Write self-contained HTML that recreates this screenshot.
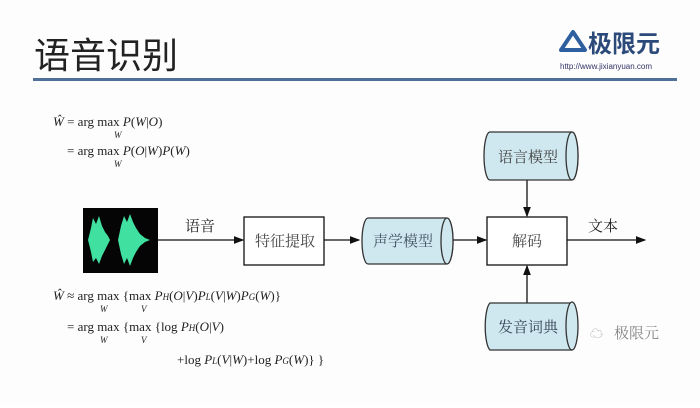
<!DOCTYPE html>
<html><head><meta charset="utf-8"><style>
body{margin:0;background:#fff;}
svg text{font-family:"Liberation Serif","Noto Serif CJK SC",serif;}
.cjk{font-family:"Noto Sans CJK SC",sans-serif !important;}
.sans{font-family:"Liberation Sans",sans-serif !important;}
</style></head><body>
<svg width="700" height="403" viewBox="0 0 700 403" xmlns="http://www.w3.org/2000/svg">
<defs><marker id="a" markerWidth="8" markerHeight="8" refX="7" refY="4" orient="auto"><path d="M0,1 L8,4 L0,7 Z" fill="#111"/></marker></defs>
<rect width="700" height="403" fill="#fdfdfd"/>
<text x="34" y="68" font-size="36" class="cjk" fill="#222">语音识别</text>
<path d="M573,32 L585,50 L561,50 Z" fill="none" stroke="#2e5f9e" stroke-width="4" stroke-linejoin="round"/>
<text x="588" y="52" font-size="24" class="cjk" font-weight="bold" fill="#2b4a7a">极限元</text>
<text x="560" y="69" font-size="8" class="sans" fill="#336">http://www.jixianyuan.com</text>
<rect x="33" y="78" width="644" height="3" fill="#4f7199"/>
<g font-size="13" fill="#222">
<text x="53" y="126"><tspan font-style="italic">Ŵ</tspan> = arg max <tspan font-style="italic">P</tspan>(<tspan font-style="italic">W</tspan>|<tspan font-style="italic">O</tspan>)</text>
<text x="114" y="138" font-size="9" font-style="italic">W</text>
<text x="67" y="155">= arg max <tspan font-style="italic">P</tspan>(<tspan font-style="italic">O</tspan>|<tspan font-style="italic">W</tspan>)<tspan font-style="italic">P</tspan>(<tspan font-style="italic">W</tspan>)</text>
<text x="114" y="167" font-size="9" font-style="italic">W</text>
<text x="53" y="300"><tspan font-style="italic">Ŵ</tspan> ≈ arg max {max <tspan font-style="italic">P<tspan font-size="9">H</tspan></tspan>(<tspan font-style="italic">O</tspan>|<tspan font-style="italic">V</tspan>)<tspan font-style="italic">P<tspan font-size="9">L</tspan></tspan>(<tspan font-style="italic">V</tspan>|<tspan font-style="italic">W</tspan>)<tspan font-style="italic">P<tspan font-size="9">G</tspan></tspan>(<tspan font-style="italic">W</tspan>)}</text>
<text x="100" y="312" font-size="9" font-style="italic">W</text>
<text x="141" y="312" font-size="9" font-style="italic">V</text>
<text x="67" y="331">= arg max {max {log <tspan font-style="italic">P<tspan font-size="9">H</tspan></tspan>(<tspan font-style="italic">O</tspan>|<tspan font-style="italic">V</tspan>)</text>
<text x="100" y="343" font-size="9" font-style="italic">W</text>
<text x="141" y="343" font-size="9" font-style="italic">V</text>
<text x="177" y="364">+log <tspan font-style="italic">P<tspan font-size="9">L</tspan></tspan>(<tspan font-style="italic">V</tspan>|<tspan font-style="italic">W</tspan>)+log <tspan font-style="italic">P<tspan font-size="9">G</tspan></tspan>(<tspan font-style="italic">W</tspan>)} }</text>
</g>
<rect x="83" y="208" width="75" height="65" fill="#050505"/>
<path d="M88,240 L91,228 L93,218 L96,224 L99,216 L102,226 L105,232 L108,236 L110,240 L108,244 L105,250 L102,256 L99,264 L96,258 L93,262 L91,252 Z" fill="#3fe0a0"/>
<path d="M118,240 L121,226 L124,216 L127,222 L130,214 L133,222 L136,228 L140,234 L145,238 L150,240 L145,242 L140,246 L136,252 L133,258 L130,266 L127,258 L124,264 L121,254 Z" fill="#3fe0a0"/>
<g stroke="#111" stroke-width="1.3" fill="none">
<line x1="158" y1="240" x2="243" y2="240" marker-end="url(#a)"/>
<line x1="324" y1="240" x2="359" y2="240" marker-end="url(#a)"/>
<line x1="453" y1="240" x2="486" y2="240" marker-end="url(#a)"/>
<line x1="567" y1="240" x2="645" y2="240" marker-end="url(#a)"/>
<line x1="527" y1="180" x2="527" y2="216" marker-end="url(#a)"/>
<line x1="527" y1="303" x2="527" y2="266" marker-end="url(#a)"/>
<rect x="244" y="217" width="80" height="48" fill="#fff"/>
<rect x="487" y="217" width="80" height="48" fill="#fff"/>
</g>
<g stroke="#333" stroke-width="1.3" fill="#cfe7ee">
<path d="M368,218 H447 A6,23 0 0 1 447,264 H368 A6,23 0 0 1 368,218 Z"/>
<ellipse cx="447" cy="241" rx="6" ry="23"/>
<path d="M490,132 H572 A6,24 0 0 1 572,180 H490 A6,24 0 0 1 490,132 Z"/>
<ellipse cx="572" cy="156" rx="6" ry="24"/>
<path d="M490,303 H572 A6,24 0 0 1 572,350 H490 A6,24 0 0 1 490,303 Z"/>
<ellipse cx="572" cy="326" rx="6" ry="24"/>
</g>
<g font-size="15" fill="#444">
<text x="185" y="231" fill="#222">语音</text>
<text x="255" y="246">特征提取</text>
<text x="373" y="246" fill="#456">声学模型</text>
<text x="512" y="246">解码</text>
<text x="588" y="231" fill="#222">文本</text>
<text x="498" y="162">语言模型</text>
<text x="498" y="332" fill="#345">发音词典</text>
<text x="614" y="338" fill="#888" font-size="15">极限元</text>
</g>
<text x="590" y="338" font-size="13" fill="#aaa" font-family="DejaVu Sans">☁</text>
</svg>
</body></html>
